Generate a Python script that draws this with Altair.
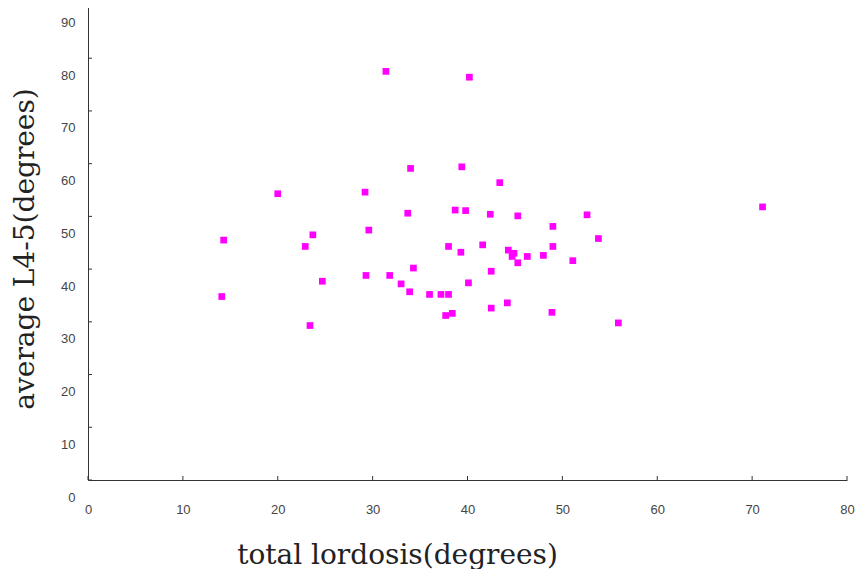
import altair as alt
import pandas as pd

# total lordosis (degrees)
lordosis = [14.3, 14.1, 20.0, 22.9, 23.7, 23.4, 24.7, 29.2, 29.6, 29.3,
            31.4, 31.8, 33.0, 33.7, 34.0, 34.3, 33.9, 36.0, 37.2, 38.0,
            37.7, 38.4, 38.0, 38.7, 39.4, 39.3, 39.8, 40.2, 40.1, 41.6,
            42.4, 42.5, 42.5, 43.4, 44.2, 44.3, 44.9, 44.7, 45.3, 45.3,
            46.3, 48.0, 49.0, 49.0, 48.9, 51.1, 52.6, 53.8, 55.9, 71.1]
# average L4-5 (degrees)
l45 = [45.5, 34.8, 54.3, 44.3, 46.5, 29.3, 37.7, 54.6, 47.4, 38.8,
       77.5, 38.8, 37.2, 50.6, 59.1, 40.2, 35.7, 35.2, 35.2, 35.2,
       31.2, 31.6, 44.3, 51.2, 59.4, 43.2, 51.1, 76.4, 37.4, 44.6,
       50.4, 39.6, 32.6, 56.4, 33.6, 43.6, 43.0, 42.4, 41.2, 50.1,
       42.4, 42.6, 48.1, 44.3, 31.8, 41.6, 50.3, 45.8, 29.8, 51.8]

x_ticks = [0, 10, 20, 30, 40, 50, 60, 70, 80]
y_ticks = [0, 10, 20, 30, 40, 50, 60, 70, 80, 90]

W, H = 759, 474.5

df = pd.DataFrame({"lordosis": lordosis, "l45": l45})
xt = pd.DataFrame({"v": x_ticks})
yt = pd.DataFrame({"v": y_ticks})

xscale = alt.Scale(domain=[0, 80], nice=False, zero=False)
yscale = alt.Scale(domain=[0, 90], nice=False, zero=False)

label_style = dict(labelFont="Liberation Sans", labelFontSize=13, labelColor="#444444",
                   titleFont="DejaVu Serif", titleFontSize=28, titleFontWeight="normal",
                   titleColor="#222222", domainColor="#333333", domainWidth=1,
                   ticks=False, grid=False, labelFlush=False, labelOverlap=False)

x_axis = alt.Axis(values=x_ticks, title="total lordosis(degrees)",
                  labelPadding=23, titleX=309, titleY=83,
                  titleAlign="center", titleBaseline="alphabetic",
                  titleAnchor="start", **label_style)
y_axis = alt.Axis(values=y_ticks, title="average L4-5(degrees)",
                  labelPadding=13, labelOffset=17, titleX=-55, titleY=243,
                  titleAngle=270, titleAlign="center", titleBaseline="alphabetic",
                  titleAnchor="start", **label_style)

points = alt.Chart(df).mark_square(color="#FF00FF", size=45, opacity=1).encode(
    x=alt.X("lordosis:Q", scale=xscale, axis=x_axis),
    y=alt.Y("l45:Q", scale=yscale, axis=y_axis),
)

xtick = alt.Chart(xt).mark_rule(color="#333333", strokeWidth=1).encode(
    x=alt.X("v:Q", scale=xscale, axis=x_axis),
    y=alt.value(H), y2=alt.value(H - 4))

ytick = alt.Chart(yt).mark_rule(color="#333333", strokeWidth=1).encode(
    y=alt.Y("v:Q", scale=yscale, axis=y_axis),
    x=alt.value(0), x2=alt.value(4))

chart = alt.layer(points, xtick, ytick).properties(
    width=W, height=H,
    autosize=alt.AutoSizeParams(type="none"),
    padding={"left": 80, "top": -2.5, "right": 8, "bottom": 89},
    background="white",
).configure_view(stroke=None)

chart.save("out.html", embed_options={"renderer": "svg", "actions": False})
